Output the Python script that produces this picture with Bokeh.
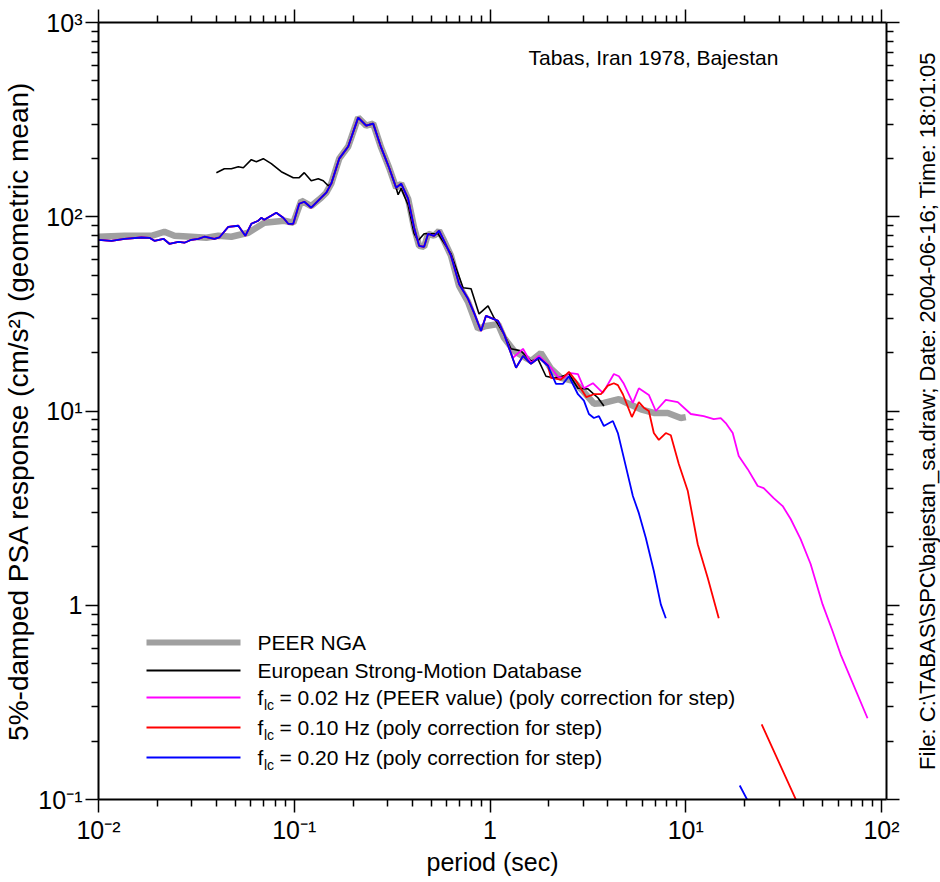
import math
from bokeh.plotting import figure
from bokeh.layouts import row
from bokeh.models import (LogAxis, FixedTicker, CustomJSTickFormatter, Range1d,
                          Label, BoxAnnotation)
from bokeh.core.properties import value
from bokeh.embed import file_html
from bokeh.resources import INLINE

NaN = float("nan")

# ---------------- data (period s, PSA cm/s^2) ----------------
peer_T = [0.01, 0.01358, 0.01864, 0.02171, 0.02442, 0.02982, 0.03556, 0.04096,
          0.04771, 0.05826, 0.07029, 0.0889, 0.09883, 0.1086, 0.1221, 0.1373,
          0.1457, 0.1545, 0.1697, 0.1886, 0.2121, 0.2330, 0.2530, 0.2780,
          0.3052, 0.3314, 0.3516, 0.3815, 0.4094, 0.4343, 0.4606, 0.4828,
          0.5179, 0.5493, 0.5826, 0.6320, 0.6950, 0.7720, 0.8686, 0.954,
          1.099, 1.179, 1.326, 1.619, 1.820, 2.048, 2.302, 2.652, 2.982,
          3.393, 3.815, 4.552, 5.100, 5.900, 6.867, 8.094, 9.430, 10.0]
peer_sa = [78.9, 79.8, 79.8, 83.7, 79.8, 78.9, 77.9, 79.8,
           78.9, 82.7, 93.1, 95.4, 93.1, 120.9, 113.5, 125.3,
           133.0, 148.0, 199.1, 230.0, 323.8, 294.5, 301.6, 226.8,
           178.8, 141.1, 148.0, 123.8, 87.8, 70.9, 70.0, 81.7,
           79.8, 84.7, 75.2, 63.0, 44.0, 36.5, 26.5, 27.4,
           28.0, 23.8, 20.4, 18.1, 19.9, 16.5, 14.8, 14.3, 12.7,
           10.9, 11.0, 11.5, 10.9, 10.2, 9.77, 9.77, 9.20, 9.30]

esmd_T = [0.04, 0.04394, 0.04771, 0.05179, 0.05493, 0.06035, 0.064, 0.06947,
          0.07631, 0.08584, 0.09883, 0.106, 0.1125, 0.1221, 0.1326, 0.1406,
          0.1491, 0.1545, 0.1697, 0.1886, 0.2121, 0.2330, 0.2530, 0.2780,
          0.3052, 0.3314, 0.3393, 0.3516, 0.3815, 0.4094, 0.4285, 0.4606,
          0.50, 0.543, 0.632, 0.7283, 0.80, 0.879, 0.977, 1.048, 1.179,
          1.28, 1.439, 1.619, 1.758, 1.931, 2.121, 2.302, 2.530, 2.812,
          3.162, 3.556, 3.815]
esmd_sa = [168.6, 176.7, 176.7, 181.0, 178.8, 196.7, 192.1, 199.1,
           187.6, 170.6, 158.9, 158.9, 168.6, 153.3, 157.0, 153.3,
           144.4, 148.0, 199.1, 230.0, 323.8, 294.5, 301.6, 226.8,
           178.8, 141.1, 129.8, 140.0, 115.0, 82.0, 75.2, 81.7,
           81.7, 81.7, 64.5, 43.1, 42.6, 31.6, 34.8, 30.2, 24.9,
           20.9, 20.4, 18.1, 18.5, 15.1, 14.8, 15.0, 15.5, 13.1,
           13.0, 11.7, 10.6]

# short-period part shared by the three filter cases
fc_T = [0.01, 0.01165, 0.01358, 0.01657, 0.01821, 0.01931, 0.02146, 0.02302,
        0.02559, 0.02747, 0.02982, 0.03237, 0.03474, 0.03907, 0.04143, 0.04606,
        0.05179, 0.05623, 0.06035, 0.06551, 0.06786, 0.07029, 0.08094, 0.08788,
        0.0932, 0.09883, 0.1060, 0.1125, 0.1221, 0.1373, 0.1457, 0.1545,
        0.1697, 0.1886, 0.2121, 0.2330, 0.2530, 0.2780, 0.3052, 0.3314,
        0.3516, 0.3815, 0.4094, 0.4343, 0.4606, 0.4828, 0.5179, 0.5493,
        0.5826, 0.6320, 0.6950, 0.7720, 0.8290, 0.8997, 0.9540, 1.099, 1.179]
fc_sa = [76.1, 75.2, 77.0, 78.2, 77.9, 75.2, 77.0, 72.6,
         74.3, 73.5, 76.1, 77.0, 78.9, 77.0, 78.2, 88.8,
         89.9, 79.8, 92.0, 95.4, 98.8, 96.5, 104.9, 98.8,
         92.0, 92.0, 116.7, 119.5, 111.3, 125.3, 133.0, 148.0,
         199.1, 230.0, 323.8, 294.5, 301.6, 226.8, 178.8, 141.1,
         148.0, 123.8, 87.8, 70.9, 70.0, 81.7, 79.8, 84.7,
         75.2, 63.0, 45.1, 37.8, 32.0, 25.8, 30.9, 29.1, 24.9]

f002_T = [1.310, 1.474, 1.619, 1.778, 2.048, 2.223, 2.386, 2.530, 2.812,
          3.017, 3.353, 3.771, 4.292, 4.552, 4.828, 5.366, 5.758, 6.475,
          7.029, 7.907, 9.103, 10.61, 12.35, 13.90, 15.09, 16.00, 17.37,
          18.64, 20.72, 23.30, 25.00, 28.12, 31.26, 34.34, 38.61, 43.42,
          50.00, 56.23, 61.78, 84.80]
f002_sa = [18.8, 20.9, 17.7, 19.2, 16.7, 15.0, 14.8, 15.7, 15.5,
           13.1, 13.9, 12.4, 15.5, 15.1, 13.8, 11.0, 13.1, 12.1,
           10.0, 11.4, 11.1, 9.65, 9.42, 9.09, 9.20, 8.67, 7.70,
           5.86, 5.02, 4.11, 4.01, 3.56, 3.24, 2.78, 2.19, 1.63,
           1.01, 0.735, 0.559, 0.262]

f020_T = [1.358, 1.474, 1.619, 1.778, 1.977, 2.172, 2.357, 2.530, 2.812,
          3.017, 3.200, 3.393, 3.599, 3.815, 4.242, 4.499, 4.828, 5.366,
          5.758, 6.251, 6.867, 7.455, 7.907, NaN, 18.86, 20.9]
f020_sa = [16.7, 19.2, 17.5, 18.8, 17.1, 13.8, 13.8, 15.1, 12.2,
           11.3, 9.65, 9.20, 9.42, 8.37, 8.88, 7.70, 5.72, 3.65,
           2.98, 2.22, 1.50, 1.01, 0.857, NaN, 0.118, 0.097]

f010_T = [1.358, 1.474, 1.619, 1.778, 1.977, 2.048, 2.302, 2.530, 2.747,
          3.100, 3.393, 3.684, 4.000, 4.292, 4.499, 4.771, 5.303, 5.758,
          6.105, 6.475, 6.867, 7.282, 7.907, 8.385, 9.211, 10.24, 11.51,
          12.95, 14.74, NaN, 24.42, 37.0]
f010_sa = [16.7, 19.2, 17.5, 18.8, 17.1, 14.8, 14.5, 15.9, 14.3,
           11.8, 12.2, 12.2, 13.5, 13.9, 13.6, 12.2, 9.31, 11.1,
           10.4, 10.0, 7.70, 7.10, 7.70, 7.50, 5.33, 3.87, 2.06,
           1.38, 0.857, NaN, 0.2435, 0.097]

x_major = [0.01, 0.1, 1, 10, 100]
y_major = [0.1, 1, 10, 100, 1000]
x_minor = [m * 10.0 ** e for e in range(-2, 2) for m in range(2, 10)]
y_minor = [m * 10.0 ** e for e in range(-1, 3) for m in range(2, 10)]

legend_labels = ["PEER NGA", "European Strong-Motion Database",
                 "= 0.02 Hz (PEER value) (poly correction for step)",
                 "= 0.10 Hz (poly correction for step)",
                 "= 0.20 Hz (poly correction for step)"]
title_text = "Tabas, Iran 1978, Bajestan"
x_label = "period (sec)"
y_label = "5%-damped PSA response (cm/s\u00b2) (geometric mean)"
file_text = "File: C:\\TABAS\\SPC\\bajestan_sa.draw; Date: 2004-06-16; Time: 18:01:05"

# ---------------- main figure ----------------
FONT = "Liberation Sans"
W, H = 900, 882
FL, FR, FT, FB = 97, 886, 22, 799   # frame edges in canvas pixels

p = figure(width=W, height=H, x_axis_type="log", y_axis_type="log",
           x_range=Range1d(0.01, 106.0), y_range=Range1d(0.1, 1000.0),
           output_backend="svg", toolbar_location=None,
           min_border_left=FL, min_border_right=W - FR,
           min_border_top=FT, min_border_bottom=H - FB)
p.outline_line_color = None
p.xgrid.visible = False
p.ygrid.visible = False
p.background_fill_color = "white"
p.border_fill_color = "white"

fmt_code = """
const e = Math.round(Math.log10(tick));
if (e == 0) return "1";
const sup = {"-": "\u207b", "0": "\u2070", "1": "\u00b9", "2": "\u00b2", "3": "\u00b3"};
return "10" + String(e).split("").map(c => sup[c]).join("");
"""
label_fmt = CustomJSTickFormatter(code=fmt_code)
blank_fmt = CustomJSTickFormatter(code="return '';")

def style_axis(ax, labels=True):
    ax.axis_line_width = 2
    ax.axis_line_color = "black"
    ax.major_tick_line_width = 1.5
    ax.minor_tick_line_width = 1.5
    ax.major_tick_in = 0
    ax.major_tick_out = 13
    ax.minor_tick_in = 0
    ax.minor_tick_out = 7
    if labels:
        ax.formatter = label_fmt
        ax.major_label_text_font = FONT
        ax.major_label_text_font_size = "25px"
        ax.major_label_text_color = "black"
        ax.major_label_standoff = 3
        ax.axis_label_text_font = FONT
        ax.axis_label_text_font_style = "normal"
        ax.axis_label_text_color = "black"
    else:
        ax.formatter = blank_fmt
        ax.major_label_text_font_size = "1px"
        ax.major_label_standoff = 0

xa = p.xaxis[0]
xa.ticker = FixedTicker(ticks=x_major, minor_ticks=x_minor)
style_axis(xa)
xa.axis_label = x_label
xa.axis_label_text_font_size = "25px"
xa.axis_label_standoff = 1

ya = p.yaxis[0]
ya.ticker = FixedTicker(ticks=y_major, minor_ticks=y_minor)
style_axis(ya)
ya.axis_label = y_label
ya.axis_label_text_font_size = "28px"
ya.axis_label_standoff = 1

top = LogAxis(ticker=FixedTicker(ticks=x_major, minor_ticks=x_minor))
style_axis(top, labels=False)
p.add_layout(top, "above")
right = LogAxis(ticker=FixedTicker(ticks=y_major, minor_ticks=y_minor))
style_axis(right, labels=False)
p.add_layout(right, "right")

# ---------------- curves ----------------
p.line(peer_T, peer_sa, line_color="#a0a0a0", line_width=6.5)
p.line(esmd_T, esmd_sa, line_color="black", line_width=1.6)
p.line(fc_T + f002_T, fc_sa + f002_sa, line_color="#ff00ff", line_width=1.8)
p.line(fc_T + f010_T, fc_sa + f010_sa, line_color="#ff0000", line_width=1.8)
p.line(fc_T + f020_T, fc_sa + f020_sa, line_color="#0000ff", line_width=1.8)

# ---------------- annotations (screen px relative to frame) ----------------
def sx(xp):
    return xp - FL

def sy(yp):
    return FB - yp

def add_text(x, y, text, size, align="left"):
    p.add_layout(Label(x=sx(x), y=sy(y), x_units="screen", y_units="screen",
                       text=text, text_font=FONT, text_font_size=size,
                       text_baseline="middle", text_align=align,
                       text_color="black"))

add_text(527, 57, title_text, "21px")

rows = [642, 670, 697, 727, 757]
colors = ["#a0a0a0", "black", "#ff00ff", "#ff0000", "#0000ff"]
thick = [6, 2, 2, 2, 2]
for i, (ry, c, t) in enumerate(zip(rows, colors, thick)):
    p.add_layout(BoxAnnotation(left=sx(145), right=sx(239),
                               top=sy(ry - t / 2), bottom=sy(ry + t / 2),
                               left_units="screen", right_units="screen",
                               top_units="screen", bottom_units="screen",
                               fill_color=c, fill_alpha=1.0, line_color=None))
    if i < 2:
        add_text(256, ry, legend_labels[i], "21px")
    else:
        add_text(256, ry, "f", "21px")
        add_text(262.5, ry + 7, "lc", "14px")
        add_text(278, ry, legend_labels[i], "21px")

# ---------------- narrow strip on the right for the file stamp ----------------
RW = 40
pr = figure(width=RW, height=H, x_range=Range1d(0, RW), y_range=Range1d(H, 0),
            output_backend="svg", toolbar_location=None,
            x_axis_location=None, y_axis_location=None,
            min_border_left=0, min_border_right=0, min_border_top=0, min_border_bottom=0)
pr.outline_line_color = None
pr.xgrid.visible = False
pr.ygrid.visible = False
pr.text(x=[927 - W], y=[441], text=[file_text], angle=math.pi / 2,
        text_align="center", text_baseline="middle",
        text_font=value(FONT), text_font_size="22px", text_color="black")

layout = row(p, pr, spacing=0)
open("out.html", "w").write(file_html(layout, INLINE))
